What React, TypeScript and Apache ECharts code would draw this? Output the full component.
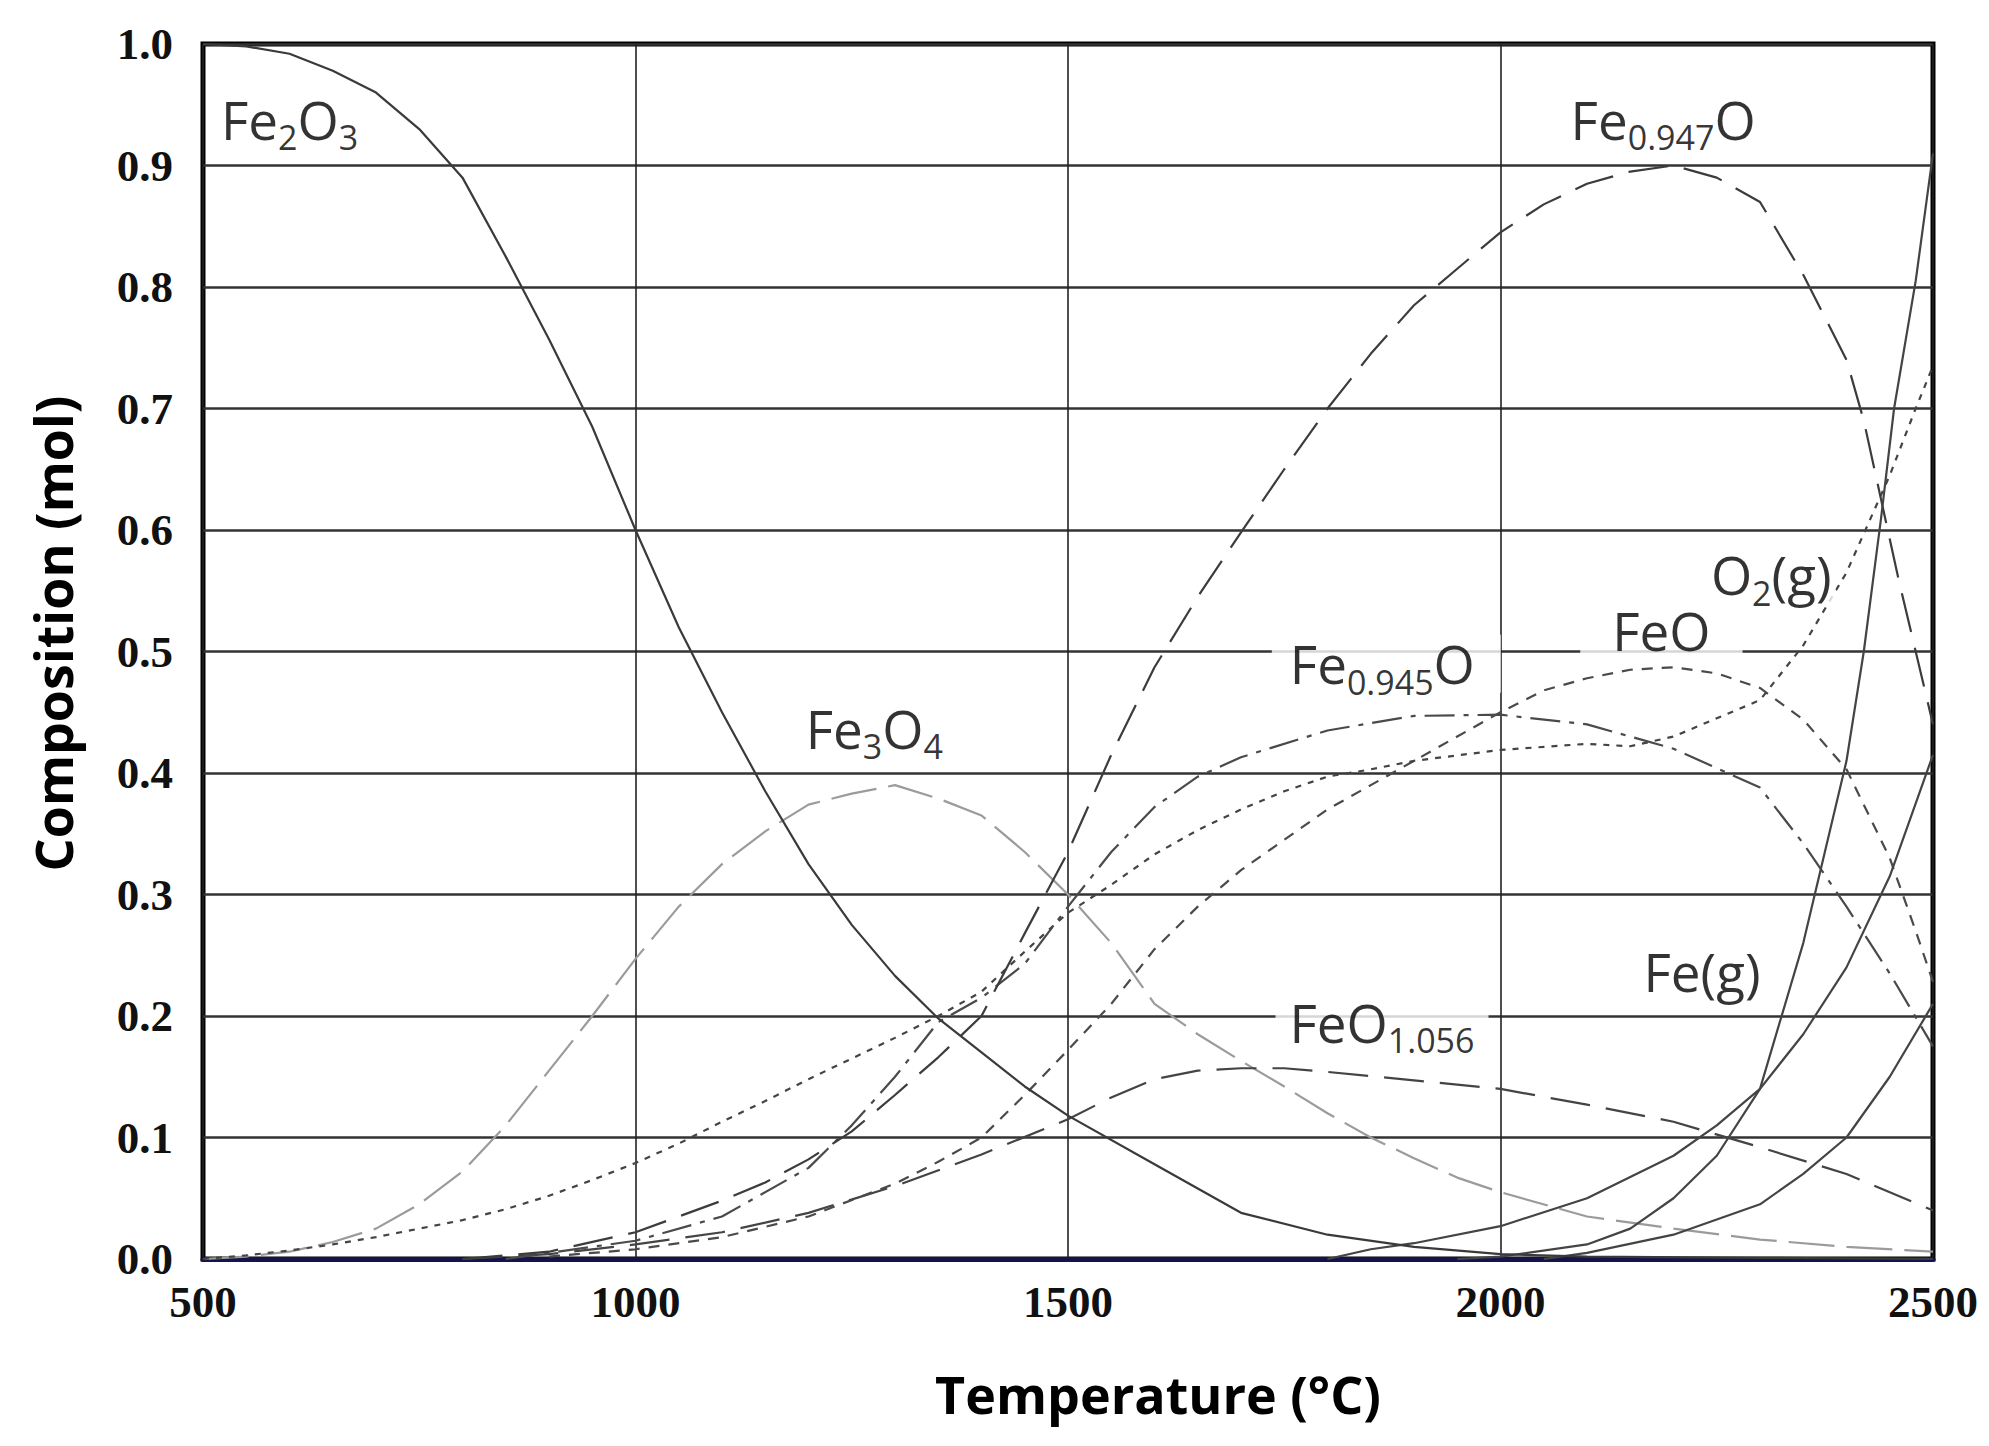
import React, { useEffect, useRef } from "react";
import * as echarts from "echarts";

// ---------- data: [temperature °C, composition mol] ----------
const xTickValues = [500, 1000, 1500, 2000, 2500];
const yTickValues = [0, 0.1, 0.2, 0.3, 0.4, 0.5, 0.6, 0.7, 0.8, 0.9, 1.0];

const fe2o3 = [
  [500, 1.0], [550, 0.998], [600, 0.992], [650, 0.978], [700, 0.96], [750, 0.93], [800, 0.89],
  [850, 0.825], [900, 0.757], [950, 0.685], [1000, 0.6], [1050, 0.52], [1100, 0.45], [1150, 0.385],
  [1200, 0.325], [1250, 0.275], [1300, 0.233], [1350, 0.198], [1400, 0.17], [1450, 0.142],
  [1500, 0.118], [1600, 0.078], [1700, 0.038], [1800, 0.02], [1900, 0.01], [2000, 0.004],
  [2100, 0.002], [2300, 0.001], [2500, 0.0],
];

const fe3o4 = [
  [500, 0.0], [550, 0.002], [600, 0.006], [650, 0.014], [700, 0.025], [750, 0.045], [800, 0.072],
  [850, 0.11], [900, 0.155], [950, 0.2], [1000, 0.247], [1050, 0.29], [1100, 0.325], [1150, 0.352],
  [1200, 0.374], [1250, 0.383], [1300, 0.39], [1350, 0.379], [1400, 0.365], [1450, 0.335],
  [1500, 0.3], [1550, 0.26], [1600, 0.21], [1650, 0.185], [1700, 0.163], [1750, 0.142],
  [1800, 0.12], [1850, 0.1], [1900, 0.083], [1950, 0.067], [2000, 0.055], [2100, 0.035],
  [2200, 0.025], [2300, 0.016], [2400, 0.01], [2500, 0.006],
];

const fe0947o = [
  [800, 0.0], [900, 0.006], [1000, 0.022], [1100, 0.048], [1150, 0.063], [1200, 0.082],
  [1250, 0.105], [1300, 0.135], [1350, 0.166], [1400, 0.2], [1450, 0.268], [1500, 0.335],
  [1550, 0.415], [1600, 0.487], [1650, 0.545], [1700, 0.598], [1750, 0.65], [1800, 0.7],
  [1850, 0.745], [1900, 0.785], [1950, 0.815], [2000, 0.845], [2050, 0.868], [2100, 0.885],
  [2150, 0.895], [2200, 0.9], [2250, 0.89], [2300, 0.87], [2350, 0.81], [2400, 0.74],
  [2420, 0.69], [2440, 0.625], [2460, 0.56], [2480, 0.5], [2500, 0.44],
];

const fe0945o = [
  [850, 0.0], [900, 0.005], [1000, 0.015], [1100, 0.035], [1200, 0.075], [1250, 0.11],
  [1300, 0.15], [1350, 0.195], [1400, 0.215], [1450, 0.243], [1500, 0.29], [1550, 0.335],
  [1600, 0.372], [1650, 0.397], [1700, 0.413], [1800, 0.435], [1900, 0.447], [2000, 0.448],
  [2100, 0.44], [2200, 0.42], [2300, 0.388], [2350, 0.342], [2400, 0.29], [2450, 0.235],
  [2500, 0.175],
];

const feo = [
  [900, 0.002], [1000, 0.008], [1100, 0.018], [1200, 0.035], [1300, 0.062], [1350, 0.08],
  [1400, 0.1], [1450, 0.135], [1500, 0.172], [1550, 0.21], [1600, 0.255], [1650, 0.29],
  [1700, 0.32], [1750, 0.345], [1800, 0.37], [1850, 0.39], [1900, 0.41], [1950, 0.43],
  [2000, 0.45], [2050, 0.468], [2100, 0.478], [2150, 0.485], [2200, 0.487], [2250, 0.482],
  [2300, 0.47], [2350, 0.444], [2400, 0.403], [2450, 0.33], [2480, 0.27], [2500, 0.228],
];

const o2g = [
  [500, 0.0], [550, 0.003], [600, 0.007], [650, 0.012], [700, 0.018], [750, 0.025], [800, 0.032],
  [850, 0.041], [900, 0.052], [950, 0.065], [1000, 0.079], [1050, 0.095], [1100, 0.113],
  [1150, 0.13], [1200, 0.148], [1250, 0.165], [1300, 0.182], [1350, 0.2], [1400, 0.22],
  [1450, 0.253], [1500, 0.285], [1550, 0.308], [1600, 0.333], [1650, 0.353], [1700, 0.37],
  [1750, 0.385], [1800, 0.397], [1850, 0.403], [1900, 0.41], [2000, 0.419], [2100, 0.424],
  [2150, 0.422], [2200, 0.43], [2250, 0.445], [2300, 0.46], [2350, 0.505], [2400, 0.565],
  [2450, 0.645], [2480, 0.7], [2500, 0.735],
];

const feo1056 = [
  [800, 0.0], [900, 0.004], [1000, 0.012], [1100, 0.022], [1200, 0.038], [1300, 0.06],
  [1400, 0.086], [1500, 0.115], [1550, 0.133], [1600, 0.148], [1650, 0.155], [1700, 0.157],
  [1750, 0.157], [1800, 0.154], [1900, 0.147], [2000, 0.14], [2100, 0.127], [2200, 0.113],
  [2300, 0.092], [2400, 0.07], [2500, 0.04],
];

const feGas = [
  [1800, 0.0], [1850, 0.008], [1900, 0.013], [2000, 0.027], [2100, 0.05], [2200, 0.085],
  [2250, 0.11], [2300, 0.14], [2350, 0.185], [2400, 0.24], [2450, 0.315], [2500, 0.415],
];

const steepSolid = [
  [1950, 0.0], [2000, 0.002], [2100, 0.012], [2150, 0.025], [2200, 0.05], [2250, 0.085],
  [2300, 0.14], [2350, 0.26], [2400, 0.41], [2420, 0.5], [2440, 0.61], [2455, 0.7],
  [2480, 0.805], [2500, 0.91],
];

const lowSolid = [
  [2050, 0.0], [2100, 0.005], [2200, 0.02], [2300, 0.045], [2350, 0.07], [2400, 0.1],
  [2450, 0.15], [2500, 0.21],
];

// ---------- annotation labels (rich text) and their anchor in data space ----------
const annotationTexts = [
  "{m|Fe}{s|2}{m|O}{s|3}",
  "{m|Fe}{s|0.947}{m|O}",
  "{m|Fe}{s|3}{m|O}{s|4}",
  "{m|Fe}{s|0.945}{m|O}",
  "{m|FeO}",
  "{m|O}{s|2}{m|(g)}",
  "{m|FeO}{s|1.056}",
  "{m|Fe(g)}",
];
const annotationAnchors = [
  [600, 0.938],
  [2188, 0.938],
  [1276, 0.437],
  [1868, 0.49],
  [2186, 0.517],
  [2313, 0.563],
  [1863, 0.195],
  [2233, 0.237],
];
const annotationPads = [
  [0, 6, 0, 6],
  [0, 6, 0, 6],
  [0, 6, 0, 6],
  [0, 26, 0, 18],
  [0, 32, 0, 32],
  [0, 4, 0, 4],
  [0, 14, 0, 14],
  [0, 6, 0, 6],
];

function lineSeries(name: string, data: number[][], color: string, type: any, width = 2.2) {
  return {
    name,
    type: "line",
    data,
    showSymbol: false,
    symbol: "none",
    smooth: false,
    silent: true,
    lineStyle: { color, width, type, cap: "butt" },
    z: 3,
  };
}

export default function App() {
  const ref = useRef<HTMLDivElement>(null);

  useEffect(() => {
    if (!ref.current) return;
    const chart = echarts.init(ref.current, undefined, { renderer: "svg" });

    const option: any = {
      animation: false,
      backgroundColor: "#ffffff",
      grid: {
        left: 203,
        right: 56,
        top: 44,
        bottom: 187,
        show: true,
        borderColor: "#000000",
        borderWidth: 5,
        backgroundColor: "#ffffff",
      },
      xAxis: {
        type: "value",
        min: xTickValues[0],
        max: xTickValues[xTickValues.length - 1],
        interval: 500,
        name: "Temperature (°C)",
        nameLocation: "middle",
        nameGap: 134,
        nameTextStyle: {
          fontFamily: "Open Sans",
          fontWeight: "bold",
          fontSize: 52,
          color: "#000",
          verticalAlign: "middle",
          padding: [0, 0, 0, 180],
        },
        axisLine: { show: true, lineStyle: { color: "#13134d", width: 5 } },
        axisTick: { show: false },
        axisLabel: {
          margin: 20,
          fontFamily: "Liberation Serif",
          fontWeight: "bold",
          fontSize: 45,
          color: "#111",
          formatter: (v: number) => String(v),
        },
        splitLine: { show: true, lineStyle: { color: "#222", width: 1.6 } },
      },
      yAxis: {
        type: "value",
        min: yTickValues[0],
        max: yTickValues[yTickValues.length - 1],
        interval: 0.1,
        name: "Composition (mol)",
        nameLocation: "middle",
        nameGap: 151,
        nameRotate: 90,
        nameTextStyle: {
          fontFamily: "Open Sans",
          fontWeight: "bold",
          fontSize: 52,
          color: "#000",
          verticalAlign: "middle",
          padding: [0, 0, 0, 36],
        },
        axisLine: { show: false },
        axisTick: { show: false },
        axisLabel: {
          margin: 30,
          fontFamily: "Liberation Serif",
          fontWeight: "bold",
          fontSize: 45,
          color: "#111",
          formatter: (v: number) => v.toFixed(1),
        },
        splitLine: { show: true, lineStyle: { color: "#333", width: 2.6 } },
      },
      series: [
        lineSeries("Fe3O4", fe3o4, "#9b9b9b", [46, 12]),
        lineSeries("FeO1.056", feo1056, "#444444", [40, 16]),
        lineSeries("FeO", feo, "#4a4a4a", [11, 9]),
        lineSeries("O2(g)", o2g, "#444444", [6, 7]),
        lineSeries("Fe0.945O", fe0945o, "#4a4a4a", [30, 9, 5, 9]),
        lineSeries("Fe0.947O", fe0947o, "#3c3c3c", [40, 16]),
        lineSeries("Fe(g)", feGas, "#444444", "solid"),
        lineSeries("steep solid", steepSolid, "#444444", "solid"),
        lineSeries("low solid", lowSolid, "#444444", "solid"),
        lineSeries("Fe2O3", fe2o3, "#3a3a3a", "solid"),
        {
          name: "labels",
          type: "scatter",
          silent: true,
          symbolSize: 1,
          itemStyle: { color: "rgba(0,0,0,0)" },
          emphasis: { disabled: true },
          z: 10,
          data: annotationAnchors.map((a, i) => ({
            value: a,
            label: { formatter: annotationTexts[i], padding: annotationPads[i] },
          })),
          label: {
            show: true,
            position: "inside",
            align: "center",
            verticalAlign: "middle",
            backgroundColor: "#ffffff",
            color: "#000",
            rich: {
              m: {
                fontFamily: "Open Sans",
                fontSize: 53,
                lineHeight: 58,
                color: "#000",
              },
              s: {
                fontFamily: "Open Sans",
                fontSize: 34,
                lineHeight: 34,
                padding: [36, 0, 0, 0],
                color: "#000",
              },
            },
          },
        },
      ],
    };

    chart.setOption(option);
    return () => chart.dispose();
  }, []);

  return (
    <div
      ref={ref}
      style={{ position: "absolute", left: 0, top: 0, width: 1989, height: 1446, background: "#fff" }}
    />
  );
}
